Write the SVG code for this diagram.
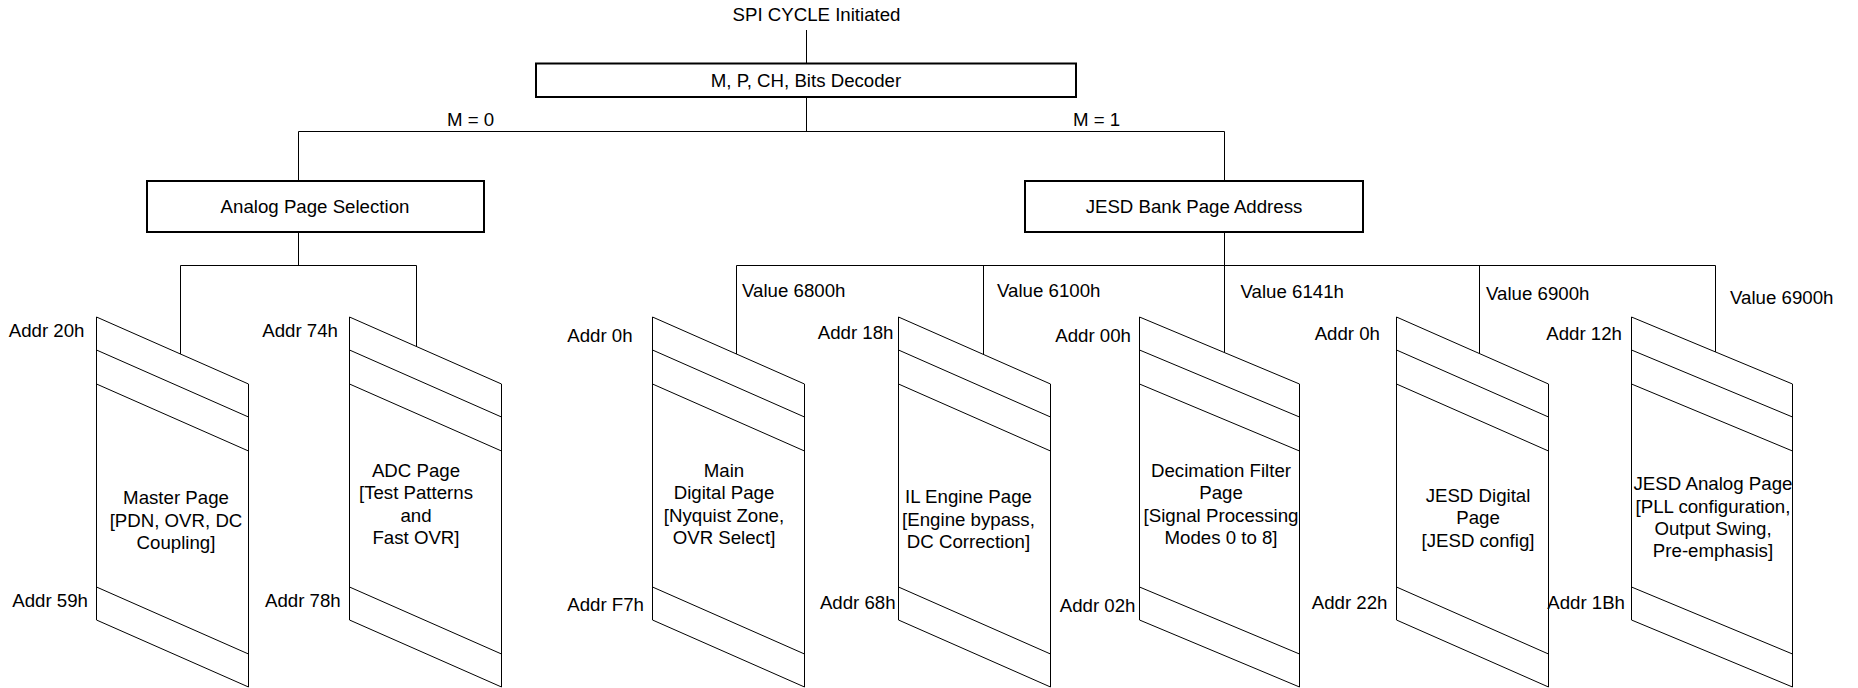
<svg xmlns="http://www.w3.org/2000/svg" width="1858" height="688" viewBox="0 0 1858 688">
<style>
text{font-family:"Liberation Sans",Arial,sans-serif;font-size:18.67px;fill:#000}
.c{text-anchor:middle}
.e{text-anchor:end}
.box{fill:#fff;stroke:#000;stroke-width:2}
.ln{fill:none;stroke:#000;stroke-width:1}
.pg{fill:#fff;stroke:#000;stroke-width:1}
</style>
<rect width="1858" height="688" fill="#fff"/>
<g id="connectors" class="ln">
<path d="M806.5 30V63"/>
<path d="M806.5 97V131.5"/>
<path d="M298.5 131.5H1224.5"/>
<path d="M298.5 131.5V181"/>
<path d="M1224.5 131.5V181"/>
<path d="M298.5 232V265.5"/>
<path d="M180.5 265.5H416.5"/>
<path d="M180.5 265.5V354"/>
<path d="M416.5 265.5V346.5"/>
<path d="M1224.5 232V352.6"/>
<path d="M736.5 265.5H1715.5"/>
<path d="M736.5 265.5V354"/>
<path d="M983.5 265.5V354.5"/>
<path d="M1479.5 265.5V353.6"/>
<path d="M1715.5 265.5V352"/>
</g>
<g id="spi"><text class="c" x="816.5" y="21">SPI CYCLE Initiated</text></g>
<g id="decoder"><rect class="box" x="536" y="63.5" width="540" height="33.5"/><text class="c" x="806" y="87">M, P, CH, Bits Decoder</text></g>
<g id="m0"><text x="447" y="126">M = 0</text></g>
<g id="m1"><text x="1073" y="126">M = 1</text></g>
<g id="analog"><rect class="box" x="147" y="181" width="337" height="51"/><text class="c" x="315" y="213">Analog Page Selection</text></g>
<g id="jesdbank"><rect class="box" x="1025" y="181" width="338" height="51"/><text class="c" x="1194" y="213">JESD Bank Page Address</text></g>

<g id="master">
<path class="pg" d="M96.5 317L248.5 384V687L96.5 620Z M96.5 350L248.5 417 M96.5 384L248.5 451 M96.5 587L248.5 654"/>
<text class="c" x="176" y="504.3">Master Page</text>
<text class="c" x="176" y="526.8">[PDN, OVR, DC</text>
<text class="c" x="176" y="549.3">Coupling]</text>
<text class="e" x="84.5" y="337.3">Addr 20h</text>
<text class="e" x="88" y="607.3">Addr 59h</text>
</g>
<g id="adc">
<path class="pg" d="M349.5 317L501.5 384V687L349.5 620Z M349.5 350L501.5 417 M349.5 384L501.5 451 M349.5 587L501.5 654"/>
<text class="c" x="416" y="476.5">ADC Page</text>
<text class="c" x="416" y="499">[Test Patterns</text>
<text class="c" x="416" y="521.5">and</text>
<text class="c" x="416" y="544">Fast OVR]</text>
<text class="e" x="338" y="337.3">Addr 74h</text>
<text class="e" x="340.7" y="607.3">Addr 78h</text>
</g>
<g id="maindigital">
<path class="pg" d="M652.5 317L804.5 384V687L652.5 620Z M652.5 350L804.5 417 M652.5 384L804.5 451 M652.5 587L804.5 654"/>
<text class="c" x="724" y="476.5">Main</text>
<text class="c" x="724" y="499">Digital Page</text>
<text class="c" x="724" y="521.5">[Nyquist Zone,</text>
<text class="c" x="724" y="544">OVR Select]</text>
<text class="e" x="632.6" y="341.5">Addr 0h</text>
<text class="e" x="644" y="611">Addr F7h</text>
<text x="742" y="297">Value 6800h</text>
</g>
<g id="ilengine">
<path class="pg" d="M898.5 317L1050.5 384V687L898.5 620Z M898.5 350L1050.5 417 M898.5 384L1050.5 451 M898.5 587L1050.5 654"/>
<text class="c" x="968.5" y="503">IL Engine Page</text>
<text class="c" x="968.5" y="525.5">[Engine bypass,</text>
<text class="c" x="968.5" y="548">DC Correction]</text>
<text class="e" x="893.5" y="339">Addr 18h</text>
<text class="e" x="895.6" y="609">Addr 68h</text>
<text x="997" y="297">Value 6100h</text>
</g>
<g id="decimation">
<path class="pg" d="M1139.5 317L1299.5 384V687L1139.5 620Z M1139.5 350L1299.5 417 M1139.5 384L1299.5 451 M1139.5 587L1299.5 654"/>
<text class="c" x="1221" y="476.5">Decimation Filter</text>
<text class="c" x="1221" y="499">Page</text>
<text class="c" x="1221" y="521.5" textLength="155" lengthAdjust="spacingAndGlyphs">[Signal Processing</text>
<text class="c" x="1221" y="544">Modes 0 to 8]</text>
<text class="e" x="1131" y="341.5">Addr 00h</text>
<text class="e" x="1135.5" y="611.5">Addr 02h</text>
<text x="1240.5" y="298">Value 6141h</text>
</g>
<g id="jesddigital">
<path class="pg" d="M1396.5 317L1548.5 384V687L1396.5 620Z M1396.5 350L1548.5 417 M1396.5 384L1548.5 451 M1396.5 587L1548.5 654"/>
<text class="c" x="1478" y="501.5">JESD Digital</text>
<text class="c" x="1478" y="524">Page</text>
<text class="c" x="1478" y="546.5">[JESD config]</text>
<text class="e" x="1380" y="339.5">Addr 0h</text>
<text class="e" x="1387.5" y="609">Addr 22h</text>
<text x="1486" y="299.5">Value 6900h</text>
</g>
<g id="jesdanalog">
<path class="pg" d="M1631.5 317L1792.5 384V687L1631.5 620Z M1631.5 350L1792.5 417 M1631.5 384L1792.5 451 M1631.5 587L1792.5 654"/>
<text class="c" x="1713" y="490" textLength="159" lengthAdjust="spacingAndGlyphs">JESD Analog Page</text>
<text class="c" x="1713" y="512.5">[PLL configuration,</text>
<text class="c" x="1713" y="535">Output Swing,</text>
<text class="c" x="1713" y="557">Pre-emphasis]</text>
<text class="e" x="1622" y="339.5">Addr 12h</text>
<text class="e" x="1625" y="609">Addr 1Bh</text>
<text x="1730" y="303.5">Value 6900h</text>
</g>
</svg>
